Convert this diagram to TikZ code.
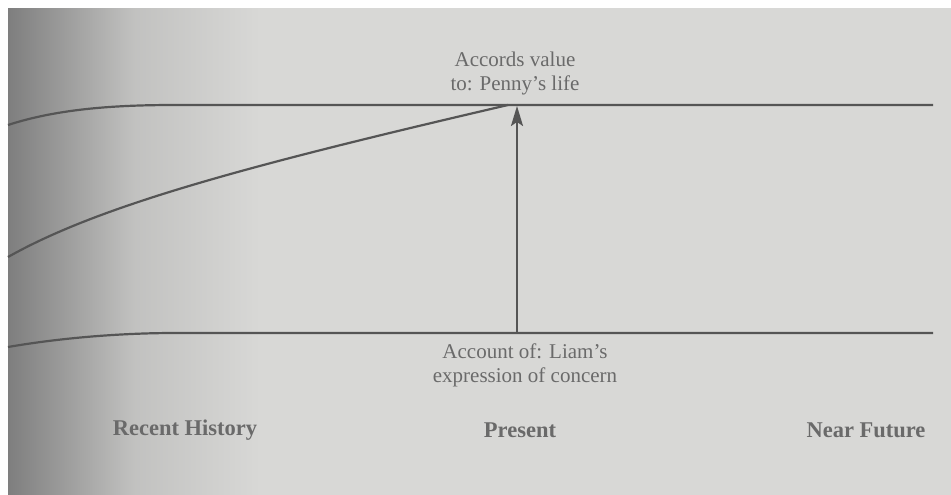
\documentclass[tikz,border=0pt]{standalone}
\usepackage{fontspec}
\setmainfont{Liberation Serif}
\usetikzlibrary{arrows.meta}
\definecolor{paper}{HTML}{D8D8D6}
\definecolor{edge}{HTML}{7E7E7E}
\definecolor{ink}{HTML}{555555}
\definecolor{txt}{HTML}{6A6A6A}
\tikzset{
  line/.style={draw=ink, line width=2.2pt},
  lbl/.style={text=txt, font=\fontsize{21}{24}\selectfont, align=center, inner sep=0pt},
  axislbl/.style={text=txt, font=\bfseries\fontsize{22.5}{25}\selectfont, inner sep=0pt}
}
\begin{document}
\begin{tikzpicture}[x=1pt,y=-1pt]
\useasboundingbox (0,0) rectangle (951,495);
\fill[paper] (0,0) rectangle (951,495);
\begin{scope}
\clip (8,8) rectangle (260,495);
\shade[left color=edge, right color=paper, middle color=paper!75!edge] (8,8) rectangle (260,495);
\end{scope}
\fill[white] (0,0) rectangle (951,8);
\fill[white] (0,0) rectangle (8,495);
% coordinates
\coordinate (tl) at (8,125);
\coordinate (tr) at (933,105);
\coordinate (ml) at (8,257);
\coordinate (meet) at (508,105);
\coordinate (bl) at (8,347);
\coordinate (br) at (933,333);
\coordinate (abot) at (517,333);
\coordinate (atop) at (517,106);
% lines
\draw[line] (tl) .. controls (60,108) and (120,105) .. (175,105) -- (tr);
\draw[line] (ml) .. controls (100,205) and (250,165) .. (meet);
\draw[line] (bl) .. controls (60,338) and (120,333) .. (175,333) -- (br);
\draw[line, -{Stealth[length=20pt,width=12pt,inset=4pt]}] (abot) -- (atop);
% labels
\node[lbl] (acc) at (515,73) {Accords value\\to: Penny's life};
\node[lbl] (lia) at (525,365) {Account of: Liam's\\expression of concern};
\node[axislbl] (rh) at (185,430) {Recent History};
\node[axislbl] (pr) at (520,430) {Present};
\node[axislbl] (nf) at (866,430) {Near Future};
\end{tikzpicture}
\end{document}
